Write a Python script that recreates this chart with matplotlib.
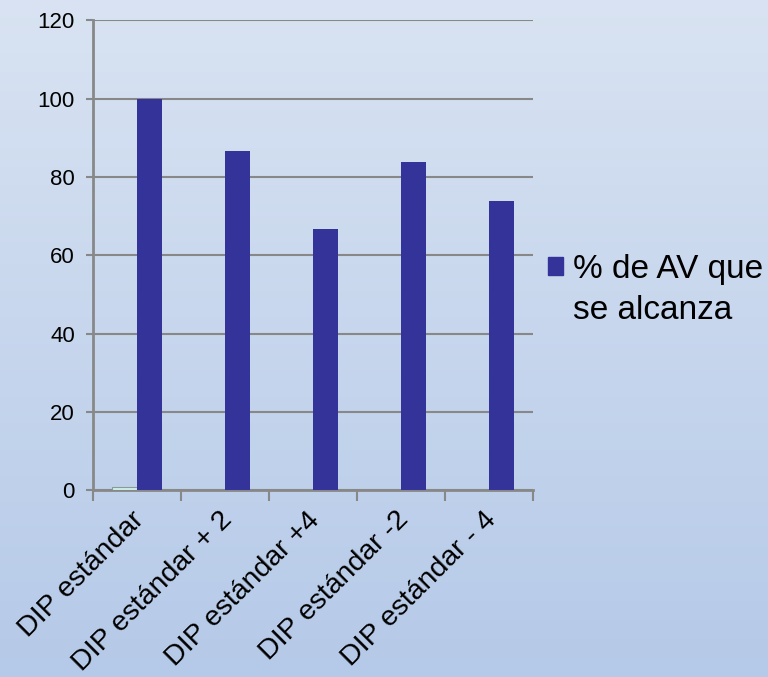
import numpy as np
import matplotlib.pyplot as plt
import matplotlib.transforms as mtransforms
from matplotlib.patches import Patch

# Data
categories = ['DIP estándar', 'DIP estándar + 2', 'DIP estándar +4',
              'DIP estándar -2', 'DIP estándar - 4']
av_pct = [100, 86.7, 66.7, 83.8, 73.9]
other_series = [0.8, 0, 0, 0, 0]
legend_lines = ['% de AV que', 'se alcanza']

plt.rcParams['font.family'] = ['Liberation Sans', 'DejaVu Sans']

fig = plt.figure(figsize=(7.68, 6.77), dpi=100)

# Gradient background
bg = fig.add_axes([0, 0, 1, 1], zorder=-10)
grad = np.linspace(0, 1, 256).reshape(-1, 1)
top = np.array([0.85, 0.89, 0.95])
bottom = np.array([0.71, 0.79, 0.91])
img = top + (bottom - top) * grad[:, :, None]
bg.imshow(img, aspect='auto', extent=[0, 1, 0, 1])
bg.axis('off')

ax = fig.add_axes([0.121, 0.276, 0.573, 0.694])
ax.set_facecolor('none')

x = np.arange(len(categories))
w = 0.285
ax.bar(x - w / 2, other_series, width=w, color='#cdeee8', edgecolor='#8a9a9a',
       linewidth=0.8, zorder=3)
ax.bar(x + w / 2, av_pct, width=w, color='#333399', zorder=3)

ax.set_xlim(-0.5, len(categories) - 0.5)
ax.set_ylim(0, 120)
ax.set_yticks(range(0, 121, 20))
ax.yaxis.grid(True, color='#888888', linewidth=1.5, zorder=0)
ax.tick_params(axis='y', labelsize=16, length=5, width=1.5, color='#888888', pad=8)

ax.set_xticks(np.arange(-0.5, len(categories), 1), minor=False)
ax.set_xticklabels([])
ax.set_xticks(x, minor=True)
ax.set_xticklabels(categories, minor=True, rotation=45, ha='right',
                   rotation_mode='anchor', fontsize=20.5)
ax.tick_params(axis='x', which='major', length=8, width=1.5, color='#888888')
ax.tick_params(axis='x', which='minor', length=0, pad=12)
shift = mtransforms.ScaledTranslation(-6 / 100, 0, fig.dpi_scale_trans)
for lbl in ax.get_xticklabels(minor=True):
    lbl.set_transform(lbl.get_transform() + shift)

for side in ['top', 'right']:
    ax.spines[side].set_visible(False)
for side in ['left', 'bottom']:
    ax.spines[side].set_color('#888888')
    ax.spines[side].set_linewidth(2)

handles = [Patch(color='#333399'), Patch(color='none')]
fig.legend(handles, legend_lines, loc='center left', bbox_to_anchor=(0.713, 0.572),
           frameon=False, fontsize=24, handlelength=0.45, handleheight=0.45,
           handletextpad=0.3, labelspacing=0.3, borderpad=0, borderaxespad=0)

fig.savefig('out.png', dpi=100)
